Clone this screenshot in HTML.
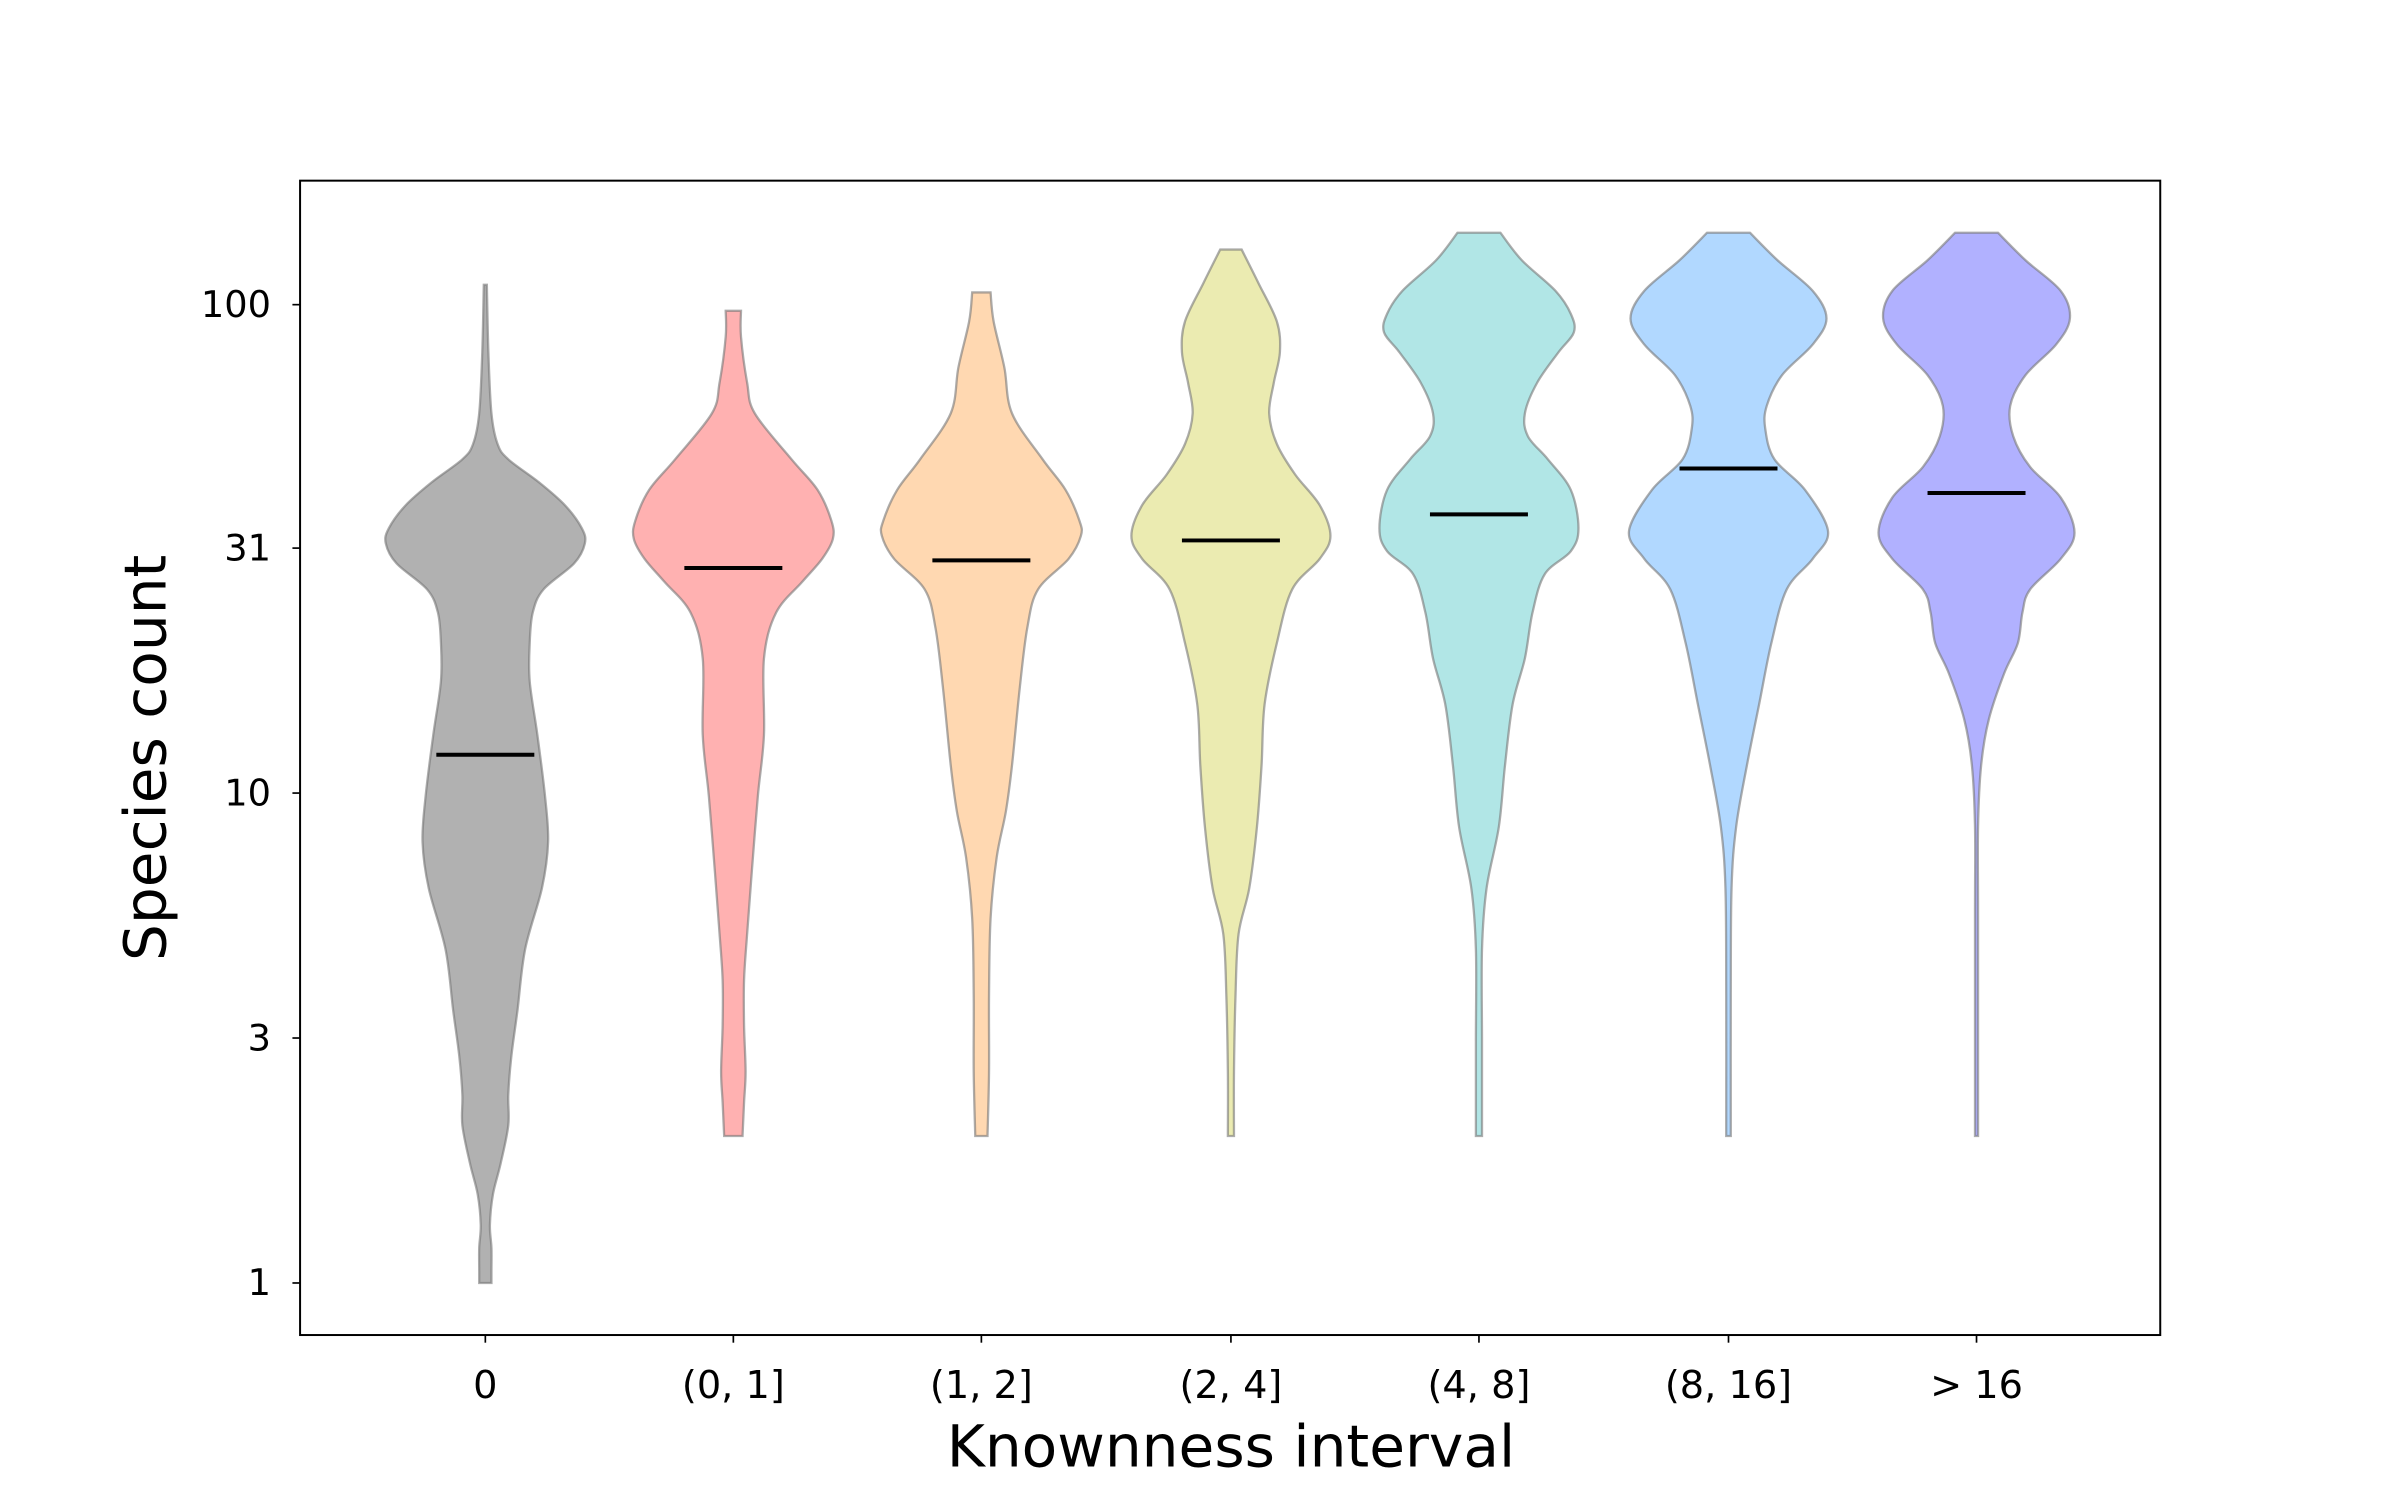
<!DOCTYPE html>
<html><head><meta charset="utf-8"><style>html,body{margin:0;padding:0;background:#fff}svg{display:block}</style></head>
<body>
<svg id="s" width="2400" height="1500" viewBox="0 0 1567.6 979.75" xmlns="http://www.w3.org/2000/svg" font-family="DejaVu Sans, Liberation Sans, sans-serif">
<rect x="0" y="0" width="1567.6" height="979.75" fill="#fff"/>
<g id="v"></g>
<rect x="196" y="118" width="1215" height="754" fill="none" stroke="#000" stroke-width="1.3"/>
<g stroke="#000" stroke-width="1.1">
<line x1="196" y1="199" x2="191" y2="199"/><line x1="196" y1="358" x2="191" y2="358"/><line x1="196" y1="518" x2="191" y2="518"/><line x1="196" y1="678" x2="191" y2="678"/><line x1="196" y1="838" x2="191" y2="838"/>
<line x1="317" y1="872" x2="317" y2="877"/><line x1="479" y1="872" x2="479" y2="877"/><line x1="641" y1="872" x2="641" y2="877"/><line x1="804" y1="872" x2="804" y2="877"/><line x1="966" y1="872" x2="966" y2="877"/><line x1="1129" y1="872" x2="1129" y2="877"/><line x1="1291" y1="872" x2="1291" y2="877"/>
</g>
<g font-size="24" text-anchor="end" fill="#000">
<text x="177" y="207">100</text><text x="177" y="366">31</text><text x="177" y="526">10</text><text x="177" y="686">3</text><text x="177" y="846">1</text>
</g>
<g font-size="25" text-anchor="middle" fill="#000">
<text x="317" y="913">0</text><text x="479" y="913">(0, 1]</text><text x="641" y="913">(1, 2]</text><text x="804" y="913">(2, 4]</text><text x="966" y="913">(4, 8]</text><text x="1129" y="913">(8, 16]</text><text x="1291" y="913">&gt; 16</text>
</g>
<text x="804" y="958" font-size="38" text-anchor="middle">Knownness interval</text>
<text transform="translate(108,495) rotate(-90)" font-size="38" text-anchor="middle">Species count</text>
</svg>
<script>
var V=[
[317,'#b1b1b1',493,[[186,1],[230,2],[270,4],[290,8],[300,15],[315,35],[330,52],[345,63],[355,65],[368,58],[385,38],[400,31],[420,29],[445,29],[480,34],[520,39],[550,41],[580,37],[620,26],[660,21],[690,17],[715,15],[735,15],[760,10],[780,5],[800,3],[815,4],[830,4],[838,4]]],
[479,'#ffb1b1',371,[[203,5],[220,5],[250,9],[270,14],[300,38],[320,55],[340,64],[352,65],[365,58],[380,45],[400,28],[430,20],[480,20],[520,16],[570,12],[610,9],[640,7],[670,7],[700,8],[720,7],[742,6]]],
[641,'#ffd8b1',366,[[191,6],[210,8],[240,15],[270,20],[300,40],[320,55],[340,64],[350,65],[365,57],[385,37],[410,30],[450,25],[500,20],[530,16],[560,10],[600,6],[650,5],[700,5],[742,4]]],
[804,'#ebebb1',353,[[163,7],[185,18],[210,30],[230,32],[250,28],[270,25],[290,30],[310,42],[330,58],[350,65],[365,58],[385,40],[420,30],[460,22],[500,20],[540,17],[580,12],[610,5],[650,3],[700,2],[742,2]]],
[966,'#b1e6e6',336,[[152,14],[170,28],[190,50],[205,60],[217,62],[230,52],[250,38],[270,30],[285,32],[300,45],[320,60],[345,65],[360,60],[375,43],[400,35],[430,30],[460,22],[500,17],[540,13],[580,5],[620,2],[680,2],[742,2]]],
[1129,'#b1d8ff',306,[[152,14],[170,32],[190,55],[208,64],[225,55],[245,35],[265,25],[280,24],[300,30],[320,50],[347,65],[365,55],[385,38],[420,28],[460,20],[500,12],[540,5],[580,2],[650,1.5],[742,1.5]]],
[1291,'#b1b1ff',322,[[152,14],[170,32],[190,55],[208,61],[225,52],[245,32],[265,22],[285,24],[305,35],[325,55],[348,64],[365,55],[385,35],[400,30],[420,27],[440,18],[470,8],[500,3],[540,1],[600,1],[742,1]]]
];
function cr(pts){var d='';for(var i=0;i<pts.length-1;i++){var p0=pts[Math.max(0,i-1)],p1=pts[i],p2=pts[i+1],p3=pts[Math.min(pts.length-1,i+2)];
var c1=[p1[0]+(p2[0]-p0[0])/6,p1[1]+(p2[1]-p0[1])/6],c2=[p2[0]-(p3[0]-p1[0])/6,p2[1]-(p3[1]-p1[1])/6];
d+=' C'+c1[0].toFixed(2)+','+c1[1].toFixed(2)+' '+c2[0].toFixed(2)+','+c2[1].toFixed(2)+' '+p2[0].toFixed(2)+','+p2[1].toFixed(2);}return d;}
var g=document.getElementById('v'),h='';
V.forEach(function(v){var c=v[0],p=v[3];
var R=p.map(function(q){return [c+q[1],q[0]];});var L=p.slice().reverse().map(function(q){return [c-q[1],q[0]];});
var d='M'+(c-p[0][1])+','+p[0][0]+' L'+R[0][0]+','+R[0][1]+cr(R)+' L'+L[0][0]+','+L[0][1]+cr(L)+' Z';
h+='<path d="'+d+'" fill="'+v[1]+'" stroke="#777" stroke-opacity="0.6" stroke-width="1.5"/>';
h+='<line x1="'+(c-32)+'" y1="'+v[2]+'" x2="'+(c+32)+'" y2="'+v[2]+'" stroke="#000" stroke-width="2.6"/>';});
g.innerHTML=h;
</script>
</body></html>
